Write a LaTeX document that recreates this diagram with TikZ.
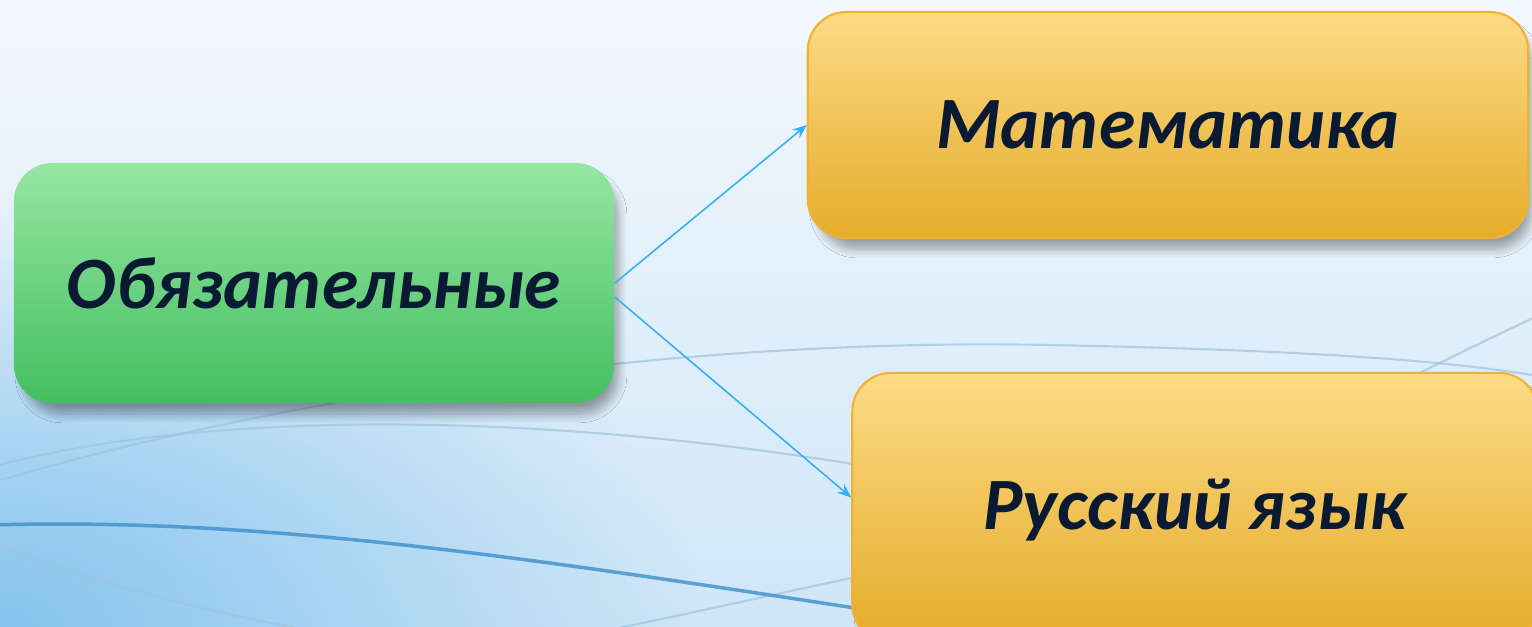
\documentclass[tikz,border=0pt]{standalone}
\usepackage{fontspec}
\setmainfont{Carlito}
\usepackage{tikz}
\usetikzlibrary{shapes,arrows,positioning,calc,shadows.blur,fadings,arrows.meta}
\definecolor{bgtop}{HTML}{F3F8FD}
\definecolor{bgbot}{HTML}{CFE6F7}
\definecolor{glow}{HTML}{86C4EE}
\definecolor{thinline}{HTML}{9EC4DE}
\definecolor{thickline}{HTML}{3C8FCB}
\definecolor{greentop}{HTML}{96E6A3}
\definecolor{greenbot}{HTML}{43BF60}
\definecolor{yellowtop}{HTML}{FDDB86}
\definecolor{yellowbot}{HTML}{E4AC2A}
\definecolor{yellowrim}{HTML}{F0B233}
\definecolor{txt}{HTML}{0A1A33}
\definecolor{arrowblue}{HTML}{35B1F2}
\tikzfading[name=glowfade, inner color=transparent!0, outer color=transparent!100]

\begin{document}
\begin{tikzpicture}[x=0.01cm, y=-0.01cm,
    box/.style={rounded corners=11pt, inner sep=0pt, text=txt,
      font=\fontsize{21}{25}\selectfont\bfseries\itshape,
      blur shadow={shadow xshift=2pt, shadow yshift=-3.5pt, shadow scale=0.99, shadow blur radius=2.5pt, shadow blur steps=10, shadow opacity=35}},
    greenbox/.style={box, top color=greentop, bottom color=greenbot},
    yellowbox/.style={box, top color=yellowtop, bottom color=yellowbot, draw=yellowrim, line width=0.6pt},
    link/.style={arrowblue, line width=0.45pt, -{Stealth[length=4pt, width=3.2pt, inset=1.4pt]}},
    faint/.style={thinline, line width=0.6pt, opacity=0.7}]
    \useasboundingbox (0,0) rectangle (1532,626);
    \clip (0,0) rectangle (1532,626);
    \shade[top color=bgtop, bottom color=bgbot] (0,0) rectangle (1532,626);
    \fill[glow, path fading=glowfade] (0,626) ellipse [x radius=700, y radius=420];
    \draw[faint] (-20,470) .. controls (200,408) and (550,410) .. (900,472);
    \draw[faint] (-20,486) .. controls (300,390) and (700,338) .. (1050,345) .. controls (1300,350) and (1450,360) .. (1550,378);
    \draw[faint] (1350,410) .. controls (1420,372) .. (1560,305);
    \draw[faint] (0,545) .. controls (120,592) and (260,628) .. (430,648);
    \draw[faint] (560,640) .. controls (700,612) and (800,588) .. (900,568);
    \draw[thickline, line width=1pt, opacity=0.8] (-10,525) .. controls (300,516) and (600,570) .. (1000,630);
    \node[greenbox, minimum width=6cm, minimum height=2.4cm] (oblig) at (314,283) {\raisebox{-4pt}{Обязательные}};
    \node[yellowbox, minimum width=7.2cm, minimum height=2.26cm] (matem) at (1168,125) {Математика};
    \node[yellowbox, minimum width=6.85cm, minimum height=2.7cm, text depth=0pt] (russk) at (1195,508) {\raisebox{2pt}{Русский язык}};
    \draw[link] (oblig.east) -- (matem.west);
    \draw[link] ([yshift=-4pt]oblig.east) -- ([yshift=3pt]russk.west);
\end{tikzpicture}
\end{document}
